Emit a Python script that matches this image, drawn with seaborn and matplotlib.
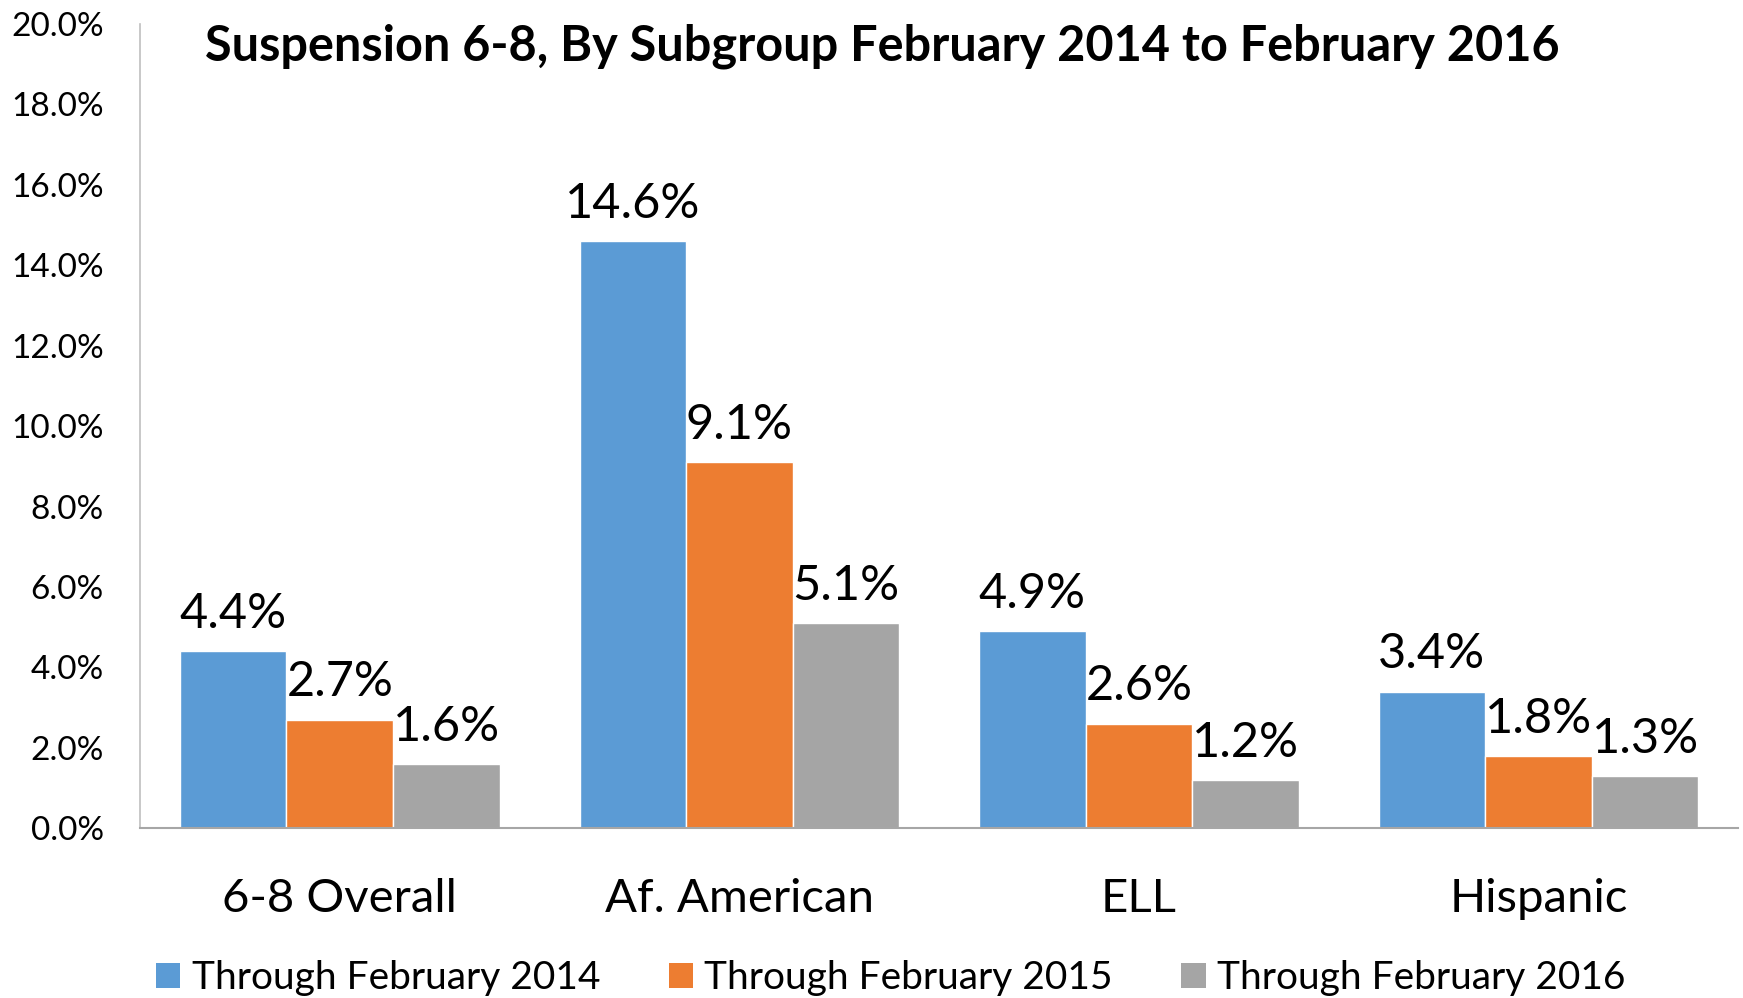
import matplotlib
matplotlib.use("Agg")
import matplotlib.pyplot as plt
import seaborn as sns
import pandas as pd
from matplotlib.patches import Patch

categories = ["6-8 Overall", "Af. American", "ELL", "Hispanic"]
series_names = ["Through February 2014", "Through February 2015", "Through February 2016"]
feb2014 = [4.4, 14.6, 4.9, 3.4]
feb2015 = [2.7, 9.1, 2.6, 1.8]
feb2016 = [1.6, 5.1, 1.2, 1.3]
colors = ["#5B9BD5", "#ED7D31", "#A5A5A5"]
yticks = [0, 2, 4, 6, 8, 10, 12, 14, 16, 18, 20]

rows = []
for name, vals in zip(series_names, [feb2014, feb2015, feb2016]):
    for c, v in zip(categories, vals):
        rows.append({"Category": c, "Series": name, "Value": v})
df = pd.DataFrame(rows)

sns.set_theme(style="white")
plt.rcParams['font.family'] = ['Lato', 'DejaVu Sans']
plt.rcParams['text.color'] = 'black'
plt.rcParams['xtick.color'] = 'black'
plt.rcParams['ytick.color'] = 'black'

fig = plt.figure(figsize=(17.43, 9.98), dpi=100)
ax = fig.add_axes([0.0803, 0.170, 0.917, 0.806])

sns.barplot(data=df, x="Category", y="Value", hue="Series", palette=colors,
            order=categories, hue_order=series_names, width=0.8, gap=0,
            saturation=1, ax=ax, legend=False, errorbar=None)

for cont in ax.containers:
    ax.bar_label(cont, labels=[f"{v:.1f}%" for v in cont.datavalues],
                 padding=11, fontsize=35, color="black")

ax.set_xlim(-0.5, 3.5)
ax.set_ylim(0, 20)
ax.set_yticks(yticks)
ax.set_yticklabels([f"{t:.1f}%" for t in yticks], fontsize=24)
ax.tick_params(axis='y', length=0, pad=26)
ax.tick_params(axis='x', length=0, pad=36, labelsize=34)
ax.set_xlabel("")
ax.set_ylabel("")
for s in ["top", "right"]:
    ax.spines[s].set_visible(False)
ax.spines["left"].set_color("#BFBFBF")
ax.spines["left"].set_linewidth(1.2)
ax.spines["bottom"].set_color("#A6A6A6")
ax.spines["bottom"].set_linewidth(1.5)

fig.text(0.506, 0.954, "Suspension 6-8, By Subgroup February 2014 to February 2016",
         ha="center", va="center", fontsize=35, fontweight="bold", color="black")

handles = [Patch(facecolor=c, edgecolor="none") for c in colors]
fig.legend(handles, series_names, loc="center", bbox_to_anchor=(0.511, 0.02),
           ncol=3, frameon=False, fontsize=28, handlelength=0.63, handleheight=0.63,
           handletextpad=0.29, columnspacing=1.76, borderaxespad=0, borderpad=0)

fig.savefig("out.png", dpi=100)
